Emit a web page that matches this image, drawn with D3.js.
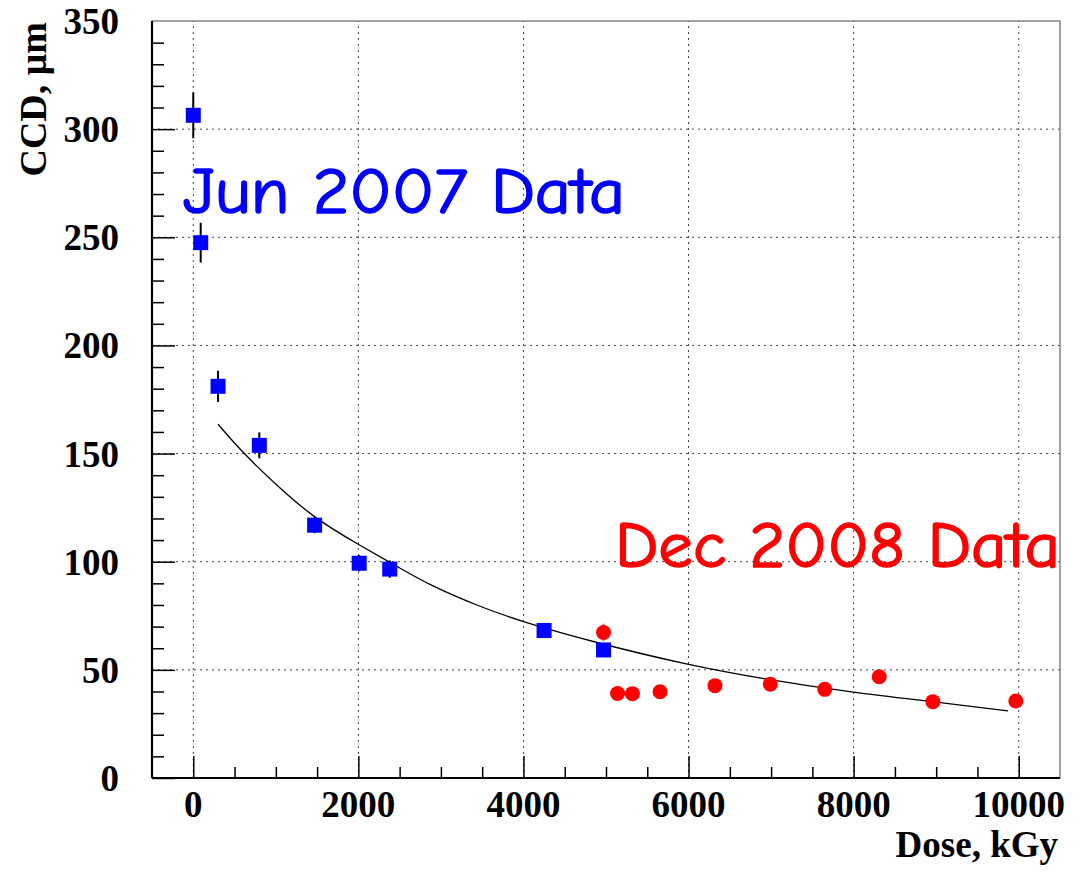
<!DOCTYPE html>
<html>
<head>
<meta charset="utf-8">
<script src="https://cdn.jsdelivr.net/npm/d3@7"></script>
<style>
  body { margin: 0; background: #fff; }
</style>
</head>
<body>
<div id="content"></div>
<script>
// data
const junDose = [0, 90, 300, 800, 1470, 2010, 2380, 4250, 4970]
const junCCD = [306.4, 247.5, 181.1, 153.8, 116.9, 99.3, 96.6, 68.2, 59.2]
const junErr = [10.6, 9.2, 7.2, 6, 3.7, 3.8, 4, 3.5, 3]

const decDose = [4970, 5140, 5320, 5655, 6320, 6990, 7650, 8310, 8960, 9965]
const decCCD = [67.3, 39.1, 39.0, 39.9, 42.7, 43.4, 41.0, 46.8, 35.3, 35.6]
const decErr = [4, 0, 0, 0, 0, 0, 0, 0, 0, 0]

const fitDose = [300, 600, 1050, 1470, 2010, 2480, 2870, 3470, 4000, 4890, 6000, 6870, 8000, 8960, 9870]
const fitCCD = [163.6, 150.3, 133.9, 120.0, 107.7, 97.6, 89.0, 79.2, 72.0, 62.4, 52.2, 46.0, 39.4, 35.3, 31.0]

const xMajor = [0, 2000, 4000, 6000, 8000, 10000]
const yMajor = [0, 50, 100, 150, 200, 250, 300, 350]

const W = 1078
const H = 872
const m = { left: 152, right: 18, top: 21, bottom: 94 }
const serif = '"Liberation Serif", "Times New Roman", serif'
const comic = '"Comic Sans MS", "Comic Neue", "DejaVu Sans", sans-serif'

const svg = d3.select('#content').append('svg')
  .attr('width', W)
  .attr('height', H)

const x = d3.scaleLinear().domain([-500, 10500]).range([m.left, W - m.right])
const y = d3.scaleLinear().domain([0, 350]).range([H - m.bottom, m.top])

// grid
const grid = svg.append('g')
  .attr('stroke', '#444')
  .attr('stroke-width', 1)
  .attr('stroke-dasharray', '2,4')
grid.selectAll('.gx').data(xMajor).join('line')
  .attr('x1', d => x(d)).attr('x2', d => x(d))
  .attr('y1', y(0)).attr('y2', y(350))
grid.selectAll('.gy').data(yMajor.slice(1, -1)).join('line')
  .attr('x1', x(-500)).attr('x2', x(10500))
  .attr('y1', d => y(d)).attr('y2', d => y(d))

// frame
svg.append('rect')
  .attr('x', x(-500)).attr('y', y(350))
  .attr('width', x(10500) - x(-500)).attr('height', y(0) - y(350))
  .attr('fill', 'none').attr('stroke', '#666').attr('stroke-width', 1.2)

// axes with ticks drawn inside
const xAxis = d3.axisBottom(x)
  .tickValues(d3.range(0, 10001, 500))
  .tickSize(-11)
  .tickFormat('')
const gx = svg.append('g')
  .attr('transform', 'translate(0,' + y(0) + ')')
  .call(xAxis)
gx.selectAll('.tick line')
  .attr('y2', d => xMajor.includes(d) ? -22 : -11)
gx.append('g').selectAll('text').data(xMajor).join('text')
  .attr('x', d => x(d))
  .attr('y', 39)
  .attr('text-anchor', 'middle')
  .text(d => d)

const yAxis = d3.axisLeft(y)
  .tickValues(d3.range(0, 341, 10))
  .tickSize(-12)
  .tickFormat('')
const gy = svg.append('g')
  .attr('transform', 'translate(' + x(-500) + ',0)')
  .call(yAxis)
gy.selectAll('.tick line')
  .attr('x2', d => d % 50 === 0 ? 23 : 12)
gy.append('g').selectAll('text').data(yMajor).join('text')
  .attr('x', -33)
  .attr('y', d => y(d))
  .attr('dy', '0.35em')
  .attr('text-anchor', 'end')
  .text(d => d)

svg.selectAll('.domain').attr('stroke', '#000').attr('stroke-width', 2.2)
  .attr('d', null)
gx.select('.domain').attr('d', 'M' + x(-500) + ',0H' + x(10500))
gy.select('.domain').attr('d', 'M0,' + y(0) + 'V' + y(350))
svg.selectAll('.tick line').attr('stroke', '#000').attr('stroke-width', 1.5)
svg.selectAll('g text')
  .attr('fill', '#000')
  .attr('font-family', serif)
  .attr('font-weight', 'bold')
  .attr('font-size', 37)

// axis titles
svg.append('text')
  .attr('x', 1058).attr('y', 857)
  .attr('text-anchor', 'end')
  .attr('font-family', serif).attr('font-weight', 'bold').attr('font-size', 37)
  .text('Dose, kGy')
svg.append('text')
  .attr('transform', 'translate(46,22) rotate(-90)')
  .attr('text-anchor', 'end')
  .attr('font-family', serif).attr('font-weight', 'bold').attr('font-size', 38)
  .text('CCD, μm')

// fit curve
const line = d3.line()
  .x((d, i) => x(fitDose[i]))
  .y(d => y(d))
  .curve(d3.curveBasis)
svg.append('path')
  .datum(fitCCD)
  .attr('fill', 'none')
  .attr('stroke', '#000')
  .attr('stroke-width', 1.3)
  .attr('d', line)

// error bars
const err = svg.append('g').attr('stroke', '#000').attr('stroke-width', 2)
err.selectAll('.ej').data(junCCD).join('line')
  .attr('x1', (d, i) => x(junDose[i])).attr('x2', (d, i) => x(junDose[i]))
  .attr('y1', (d, i) => y(d - junErr[i])).attr('y2', (d, i) => y(d + junErr[i]))
err.selectAll('.ed').data(decCCD).join('line')
  .attr('stroke', '#888')
  .attr('x1', (d, i) => x(decDose[i])).attr('x2', (d, i) => x(decDose[i]))
  .attr('y1', (d, i) => y(d - decErr[i])).attr('y2', (d, i) => y(d + decErr[i]))

// markers
svg.append('g').selectAll('rect').data(junCCD).join('rect')
  .attr('x', (d, i) => x(junDose[i]) - 7.5)
  .attr('y', d => y(d) - 7.5)
  .attr('width', 15).attr('height', 15)
  .attr('fill', '#0000ff')
svg.append('g').selectAll('circle').data(decCCD).join('circle')
  .attr('cx', (d, i) => x(decDose[i]))
  .attr('cy', d => y(d))
  .attr('r', 7.5)
  .attr('fill', '#ff0000')

// labels, thickened a bit with a stroke of the same colour
svg.append('text')
  .attr('x', 183).attr('y', 213)
  .attr('textLength', 442).attr('lengthAdjust', 'spacingAndGlyphs')
  .attr('font-family', comic).attr('font-size', 64)
  .attr('fill', '#0000ff').attr('stroke', '#0000ff').attr('stroke-width', 1.6)
  .text('Jun 2007 Data')
svg.append('text')
  .attr('x', 615).attr('y', 567)
  .attr('textLength', 445).attr('lengthAdjust', 'spacingAndGlyphs')
  .attr('font-family', comic).attr('font-size', 64)
  .attr('fill', '#ff0000').attr('stroke', '#ff0000').attr('stroke-width', 1.6)
  .text('Dec 2008 Data')
</script>
</body>
</html>
